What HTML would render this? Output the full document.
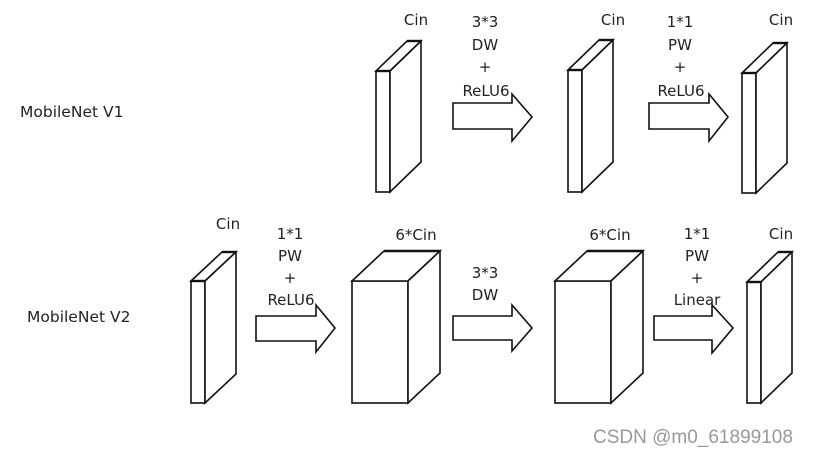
<!DOCTYPE html>
<html><head><meta charset="utf-8"><style>
html,body{margin:0;padding:0;background:#fff;}
svg{display:block;}
text{font-family:"DejaVu Sans","Liberation Sans",sans-serif;font-size:15px;fill:#222;}
</style></head><body>
<svg width="814" height="454" viewBox="0 0 814 454" xmlns="http://www.w3.org/2000/svg">
<g fill="#fff" stroke="#111" stroke-width="1.6" stroke-linejoin="miter">
<rect x="376" y="71" width="14" height="121"/>
<polygon points="376,71 407,41 421,41 390,71"/>
<polygon points="390,71 421,41 421,162 390,192"/>
<rect x="568" y="70" width="14" height="122"/>
<polygon points="568,70 599,40 613,40 582,70"/>
<polygon points="582,70 613,40 613,162 582,192"/>
<rect x="742" y="73" width="14" height="120"/>
<polygon points="742,73 773,43 787,43 756,73"/>
<polygon points="756,73 787,43 787,163 756,193"/>
<rect x="191" y="281" width="14" height="122"/>
<polygon points="191,281 222,252 236,252 205,281"/>
<polygon points="205,281 236,252 236,374 205,403"/>
<rect x="352" y="281" width="56" height="122"/>
<polygon points="352,281 384,251 440,251 408,281"/>
<polygon points="408,281 440,251 440,373 408,403"/>
<rect x="555" y="281" width="56" height="122"/>
<polygon points="555,281 587,251 643,251 611,281"/>
<polygon points="611,281 643,251 643,373 611,403"/>
<rect x="747" y="282" width="14" height="121"/>
<polygon points="747,282 778,252 792,252 761,282"/>
<polygon points="761,282 792,252 792,373 761,403"/>
<path d="M453,103 H512 V94 L532,117 L512,141 V129 H453 Z"/>
<path d="M649,103 H709 V94 L728,117 L709,141 V129 H649 Z"/>
<path d="M256,316 H316 V305 L335,328 L316,352 V341 H256 Z"/>
<path d="M453,316 H512 V305 L532,328 L512,351 V340 H453 Z"/>
<path d="M654,316 H712 V305 L733,328 L712,353 V340 H654 Z"/>
</g>
<g stroke="#111" stroke-width="2.4">
<line x1="407" y1="41" x2="421" y2="41"/><line x1="376" y1="71" x2="390" y2="71"/>
<line x1="599" y1="40" x2="613" y2="40"/><line x1="568" y1="70" x2="582" y2="70"/>
<line x1="773" y1="43" x2="787" y2="43"/><line x1="742" y1="73" x2="756" y2="73"/>
<line x1="222" y1="252" x2="236" y2="252"/><line x1="191" y1="281" x2="205" y2="281"/>
<line x1="384" y1="251" x2="440" y2="251"/><line x1="587" y1="251" x2="643" y2="251"/>
<line x1="778" y1="252" x2="792" y2="252"/><line x1="747" y1="282" x2="761" y2="282"/>
</g>
<text x="20" y="117" style="font-size:15.5px">MobileNet V1</text>
<text x="27" y="322" style="font-size:15.5px">MobileNet V2</text>
<g text-anchor="middle">
<text x="416" y="25">Cin</text>
<text x="485" y="27">3*3</text>
<text x="485" y="50">DW</text>
<text x="485" y="72">+</text>
<text x="486" y="96">ReLU6</text>
<text x="613" y="25">Cin</text>
<text x="680" y="27">1*1</text>
<text x="680" y="50">PW</text>
<text x="680" y="72">+</text>
<text x="681" y="96">ReLU6</text>
<text x="781" y="25">Cin</text>
<text x="228" y="229">Cin</text>
<text x="290" y="239">1*1</text>
<text x="290" y="261">PW</text>
<text x="290" y="283">+</text>
<text x="291" y="305">ReLU6</text>
<text x="416" y="240">6*Cin</text>
<text x="485" y="278">3*3</text>
<text x="485" y="300">DW</text>
<text x="610" y="240">6*Cin</text>
<text x="697" y="239">1*1</text>
<text x="697" y="261">PW</text>
<text x="697" y="283">+</text>
<text x="697" y="305">Linear</text>
<text x="781" y="239">Cin</text>
</g>
<text x="593" y="443" style="font-family:'Liberation Sans',sans-serif;font-size:19px;fill:#999;">CSDN @m0_61899108</text>
</svg>
</body></html>
